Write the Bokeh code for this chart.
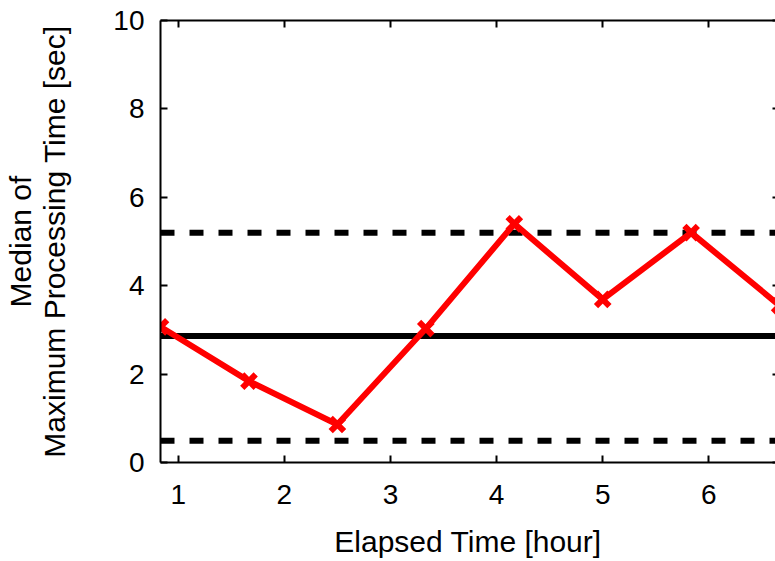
from bokeh.plotting import figure
from bokeh.models import Range1d, LinearAxis, FixedTicker, Span
from bokeh.embed import file_html
from bokeh.resources import INLINE

# Data
elapsed_hours = [0.833, 1.667, 2.5, 3.333, 4.167, 5.0, 5.833, 6.667]
median_max_proc = [3.07, 1.84, 0.86, 3.03, 5.40, 3.69, 5.20, 3.55]
overall_median = 2.86
upper_bound = 5.20
lower_bound = 0.49
x_ticks = [1, 2, 3, 4, 5, 6]
y_ticks = [0, 2, 4, 6, 8, 10]

FONT = "Liberation Sans"

p = figure(width=775, height=561, output_backend="svg", toolbar_location=None,
           x_range=Range1d(0.8333, 6.628), y_range=Range1d(0, 10),
           min_border_left=159, min_border_right=0, min_border_top=20,
           min_border_bottom=99)
p.outline_line_color = None
p.xgrid.visible = False
p.ygrid.visible = False
p.background_fill_color = "white"
p.border_fill_color = "white"

for ax in (p.xaxis[0], p.yaxis[0]):
    ax.axis_line_width = 2
    ax.axis_line_color = "black"
    ax.major_tick_line_width = 2
    ax.major_tick_line_color = "black"
    ax.major_tick_in = 7
    ax.major_tick_out = 0
    ax.minor_tick_line_color = None
    ax.major_label_text_font = FONT
    ax.major_label_text_font_size = "28px"
    ax.major_label_text_color = "black"
    ax.axis_label_text_font = FONT
    ax.axis_label_text_font_size = "30px"
    ax.axis_label_text_font_style = "normal"
    ax.axis_label_text_color = "black"
    ax.axis_label_text_line_height = 1.05

p.xaxis.ticker = FixedTicker(ticks=x_ticks)
p.yaxis.ticker = FixedTicker(ticks=y_ticks)
p.xaxis.axis_label = "Elapsed Time [hour]"
p.yaxis.axis_label = "Median of\nMaximum Processing Time [sec]"
p.xaxis.major_label_standoff = 22
p.yaxis.major_label_standoff = 16
p.xaxis.axis_label_standoff = 18
p.yaxis.axis_label_standoff = 39

top = LinearAxis(ticker=FixedTicker(ticks=x_ticks), major_label_text_font_size="0px",
                 major_tick_in=7, major_tick_out=0, major_label_standoff=0,
                 axis_line_width=2, major_tick_line_width=2,
                 minor_tick_line_color=None)
p.add_layout(top, "above")

right = LinearAxis(ticker=FixedTicker(ticks=y_ticks), major_label_text_font_size="0px",
                   major_tick_in=3, major_tick_out=0, major_label_standoff=0,
                   axis_line_color=None, major_tick_line_width=2,
                   minor_tick_line_color=None)
p.add_layout(right, "right")

for loc, dash in ((overall_median, "solid"), (upper_bound, "14 15"), (lower_bound, "14 15")):
    p.add_layout(Span(location=loc, dimension="width", line_color="black",
                      line_width=6, line_dash=dash, level="underlay"))

p.line(elapsed_hours, median_max_proc, line_color="#ff0000", line_width=6)
p.scatter(elapsed_hours, median_max_proc, marker="x", size=19,
          line_color="#ff0000", line_width=6)

open("out.html", "w").write(file_html(p, INLINE))
